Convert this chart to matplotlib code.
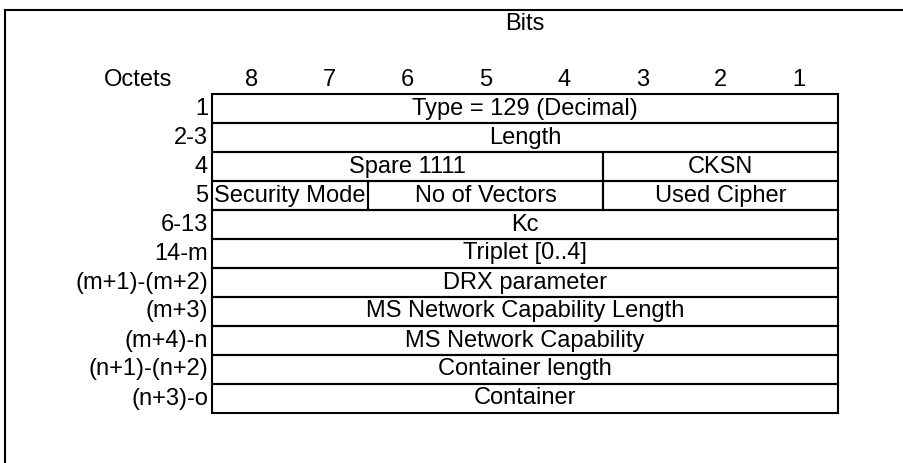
import matplotlib
matplotlib.use("Agg")
import matplotlib.pyplot as plt
from matplotlib.patches import Rectangle
from matplotlib.lines import Line2D

plt.rcParams['font.family'] = ['Liberation Sans', 'DejaVu Sans']

# ******************************************************************************
# Data
# ******************************************************************************
bit_labels = ["8", "7", "6", "5", "4", "3", "2", "1"]
octet_labels = ["1", "2-3", "4", "5", "6-13", "14-m", "(m+1)-(m+2)", "(m+3)",
                "(m+4)-n", "(n+1)-(n+2)", "(n+3)-o"]
# fields of each octet row: (name, width in bits)
row_fields = [
    [("Type = 129 (Decimal)", 8)],
    [("Length", 8)],
    [("Spare 1111", 5), ("CKSN", 3)],
    [("Security Mode", 2), ("No of Vectors", 3), ("Used Cipher", 3)],
    [("Kc", 8)],
    [("Triplet [0..4]", 8)],
    [("DRX parameter", 8)],
    [("MS Network Capability Length", 8)],
    [("MS Network Capability", 8)],
    [("Container length", 8)],
    [("Container", 8)],
]

W, H = 904, 463
FS = 17
fig = plt.figure(figsize=(W / 100, H / 100), dpi=100)

# table area in pixels: x 212..838, y 94..413
ax = fig.add_axes([212 / W, (H - 413) / H, (838 - 212) / W, (413 - 94) / H])
ax.set_xlim(0, 8)
ax.set_ylim(len(octet_labels), 0)
ax.axis("off")

for r, fields in enumerate(row_fields):
    x0 = 0
    for name, span in fields:
        ax.add_patch(Rectangle((x0, r), span, 1, fill=False, lw=1.5,
                               edgecolor="black", clip_on=False))
        ax.text(x0 + span / 2, r + 0.5, name, ha="center", va="center",
                fontsize=FS)
        x0 += span
    ax.text(-0.05, r + 0.5, octet_labels[r], ha="right", va="center",
            fontsize=FS, clip_on=False)

for i, b in enumerate(bit_labels):
    ax.text(i + 0.5, -0.48, b, ha="center", va="center", fontsize=FS,
            clip_on=False)

ax.text(4, -2.42, "Bits", ha="center", va="center", fontsize=FS, clip_on=False)
ax.text(-0.95, -0.48, "Octets", ha="center", va="center", fontsize=FS,
        clip_on=False)

# outer frame (top and left edges only, the rest runs off the page)
fig.add_artist(Line2D([5 / W, 1.0], [1 - 10 / H, 1 - 10 / H],
                      transform=fig.transFigure, color="black", lw=1.5))
fig.add_artist(Line2D([5 / W, 5 / W], [0.0, 1 - 10 / H],
                      transform=fig.transFigure, color="black", lw=1.5))

fig.savefig("out.png", dpi=100, facecolor="white")
